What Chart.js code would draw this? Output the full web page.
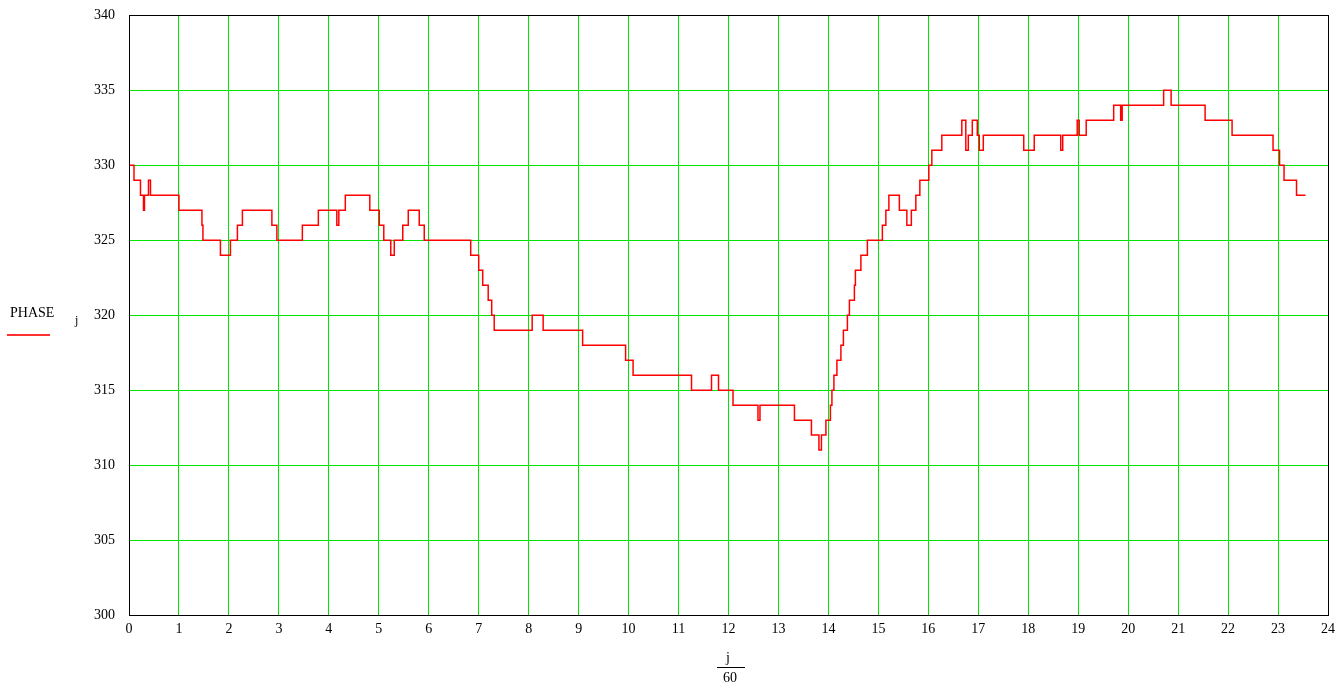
<!DOCTYPE html>
<html>
<head>
<meta charset="utf-8">
<script src="https://cdn.jsdelivr.net/npm/chart.js@4.4.0/dist/chart.umd.min.js"></script>
<style>
    body { margin: 0; background: #fff; overflow: hidden; }
    #wrap { position: relative; width: 1338px; height: 690px; overflow: hidden; }
    #phaseChart { position: absolute; left: 0; top: -7px; }
    .lbl { position: absolute; font-family: "Liberation Serif", serif; color: #000; }
</style>
</head>
<body>
<div id="wrap">
    <canvas id="phaseChart" width="1341" height="697"></canvas>
    <div class="lbl" style="left:10px; top:305px; font-size:14px;">PHASE</div>
    <div style="position:absolute; left:7px; top:334px; width:43px; height:2px; background:#ff3030;"></div>
    <div class="lbl" style="left:75px; top:313px; font-size:12px;">j</div>
    <div class="lbl" style="left:726px; top:650px; font-size:14px;">j</div>
    <div style="position:absolute; left:717px; top:667px; width:28px; height:1px; background:#000;"></div>
    <div class="lbl" style="left:723px; top:670px; font-size:14px;">60</div>
</div>
<script>
// ====================== DATA ======================
// hours (j/60) where the phase changes, and the value it changes to
const phaseHours = [
    0, 0.10, 0.23, 0.29, 0.31, 0.39, 0.43, 1.00, 1.46, 1.48,
    1.83, 2.03, 2.17, 2.27, 2.86, 2.96, 3.47, 3.79, 4.16, 4.20,
    4.33, 4.82, 5.01, 5.10, 5.24, 5.31, 5.48, 5.59, 5.81, 5.91,
    6.84, 7.00, 7.08, 7.19, 7.26, 7.31, 8.07, 8.29, 9.08, 9.94,
    10.09, 11.26, 11.66, 11.80, 12.09, 12.59, 12.63, 13.32, 13.66, 13.81,
    13.86, 13.95, 14.04, 14.07, 14.11, 14.17, 14.25, 14.30, 14.38, 14.42,
    14.52, 14.54, 14.65, 14.78, 15.08, 15.15, 15.21, 15.42, 15.57, 15.66,
    15.75, 15.83, 16.01, 16.07, 16.27, 16.67, 16.75, 16.80, 16.88, 16.98,
    17.02, 17.10, 17.91, 18.12, 18.65, 18.69, 18.98, 19.02, 19.16, 19.71,
    19.85, 19.88, 20.71, 20.86, 21.54, 22.08, 22.90, 23.03, 23.12, 23.37,
    23.55
];
const phaseValues = [
    330, 329, 328, 327, 328, 329, 328, 327, 326, 325,
    324, 325, 326, 327, 326, 325, 326, 327, 326, 327,
    328, 327, 326, 325, 324, 325, 326, 327, 326, 325,
    324, 323, 322, 321, 320, 319, 320, 319, 318, 317,
    316, 315, 316, 315, 314, 313, 314, 313, 312, 311,
    312, 313, 314, 315, 316, 317, 318, 319, 320, 321,
    322, 323, 324, 325, 326, 327, 328, 327, 326, 327,
    328, 329, 330, 331, 332, 333, 331, 332, 333, 332,
    331, 332, 331, 332, 331, 332, 333, 332, 333, 334,
    333, 334, 335, 334, 333, 332, 331, 330, 329, 328,
    328
];
const xRange = [0, 24];
const yRange = [300, 340];

// ====================== CHART ======================
const gridGreen = "#00e600";
const tickFont = { family: "'Liberation Serif', serif", size: 14 };

// black frame round the plot area
const frameBox = {
    id: "frameBox",
    afterDraw(chart) {
        const a = chart.chartArea;
        const ctx = chart.ctx;
        ctx.save();
        ctx.strokeStyle = "#000";
        ctx.lineWidth = 1;
        ctx.strokeRect(Math.round(a.left) + 0.5, Math.round(a.top) + 0.5,
            Math.round(a.right - a.left), Math.round(a.bottom - a.top));
        ctx.restore();
    }
};

new Chart(document.getElementById("phaseChart").getContext("2d"), {
    type: "line",
    data: {
        datasets: [{
            data: phaseHours.map((h, i) => ({ x: h, y: phaseValues[i] })),
            borderColor: "#ff0000",
            borderWidth: 1.5,
            pointRadius: 0,
            stepped: true,
            fill: false
        }]
    },
    options: {
        responsive: false,
        animation: false,
        layout: { padding: { left: 0, top: 8, right: 7, bottom: 45 } },
        plugins: { legend: { display: false }, tooltip: { enabled: false } },
        scales: {
            x: {
                type: "linear",
                min: xRange[0],
                max: xRange[1],
                afterFit: s => { s.height = 30; },
                ticks: { stepSize: 1, color: "#000", font: tickFont, padding: 6, maxRotation: 0 },
                grid: { color: gridGreen, drawTicks: false },
                border: { display: true, color: "#000" }
            },
            y: {
                min: yRange[0],
                max: yRange[1],
                afterFit: s => { s.width = 129; },
                ticks: { stepSize: 5, color: "#000", font: tickFont, padding: 14 },
                grid: { color: gridGreen, drawTicks: false },
                border: { display: true, color: "#000" }
            }
        }
    },
    plugins: [frameBox]
});
</script>
</body>
</html>
